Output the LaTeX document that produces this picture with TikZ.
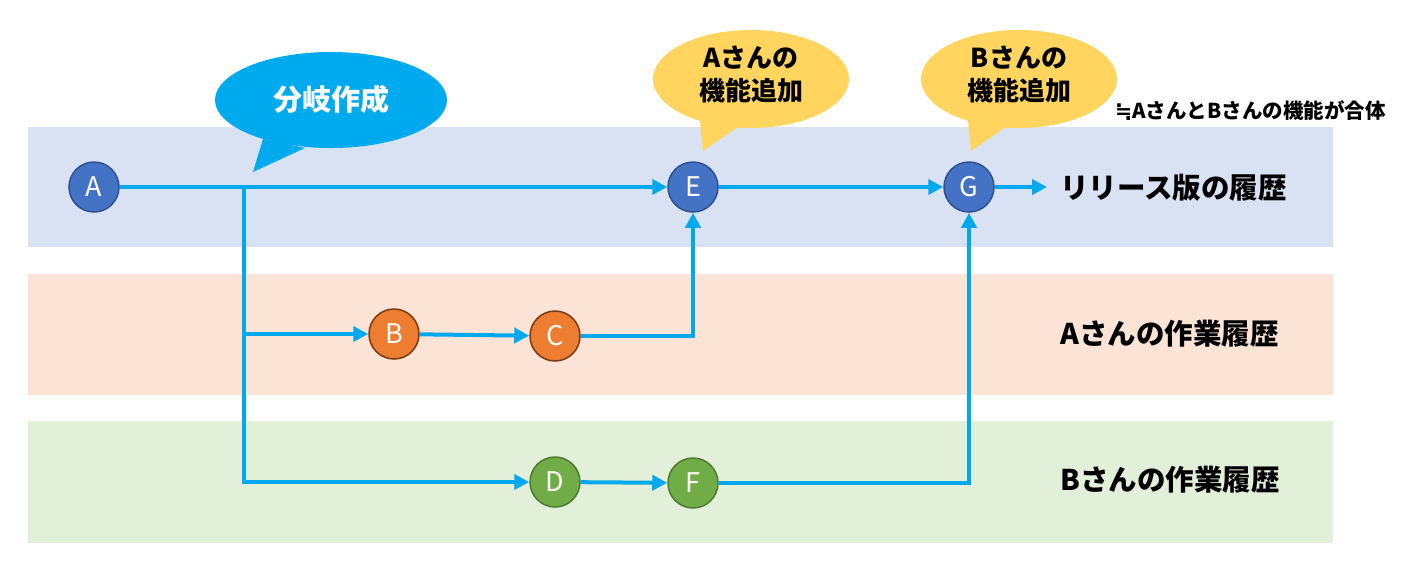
\documentclass[tikz,border=0pt]{standalone}
\usepackage{fontspec}
\setmainfont{Noto Sans CJK JP}
\newfontfamily\jp{Noto Sans CJK JP}
\newfontfamily\symfont{DejaVu Sans}
\usetikzlibrary{arrows.meta}
\definecolor{bandblue}{HTML}{D9E2F3}
\definecolor{bandorange}{HTML}{FBE4D5}
\definecolor{bandgreen}{HTML}{E2EFD9}
\definecolor{lineblue}{HTML}{00A9EE}
\definecolor{nblue}{HTML}{4472C4}
\definecolor{nblueb}{HTML}{2F4F8F}
\definecolor{norange}{HTML}{ED7D31}
\definecolor{norangeb}{HTML}{7A3A12}
\definecolor{ngreen}{HTML}{70AD47}
\definecolor{ngreenb}{HTML}{4E7A32}
\definecolor{callblue}{HTML}{00AAEE}
\definecolor{callyellow}{HTML}{FFD45F}
\tikzset{
  cnode/.style={circle, minimum size=50pt, inner sep=0pt, line width=1.5pt, text=white, font=\jp\fontsize{27}{27}\selectfont},
  bluenode/.style={cnode, fill=nblue, draw=nblueb},
  orangenode/.style={cnode, fill=norange, draw=norangeb},
  greennode/.style={cnode, fill=ngreen, draw=ngreenb},
  conn/.style={draw=lineblue, line width=4pt, -{Triangle[length=15pt,width=15pt]}},
  plainconn/.style={draw=lineblue, line width=4pt},
  rowlabel/.style={anchor=west, inner sep=0pt, font=\jp\bfseries\fontsize{28.5}{28.5}\selectfont},
  calltext/.style={align=center, inner sep=0pt, font=\jp\bfseries\fontsize{26}{33}\selectfont},
}
\begin{document}
\begin{tikzpicture}[x=1pt,y=-1pt]
\useasboundingbox (0,0) rectangle (1410,582);
% bands
\fill[bandblue] (28,127) rectangle (1333,247);
\fill[bandorange] (28,274) rectangle (1333,395);
\fill[bandgreen] (28,421) rectangle (1333,543);
% callouts
\fill[callblue] (263,139) -- (253,172) -- (305,148) -- cycle;
\fill[callblue] (331,100) ellipse [x radius=116pt, y radius=48pt];
\node[calltext, text=white, font=\jp\bfseries\fontsize{29}{33}\selectfont] (cb) at (331,99) {分岐作成};
\fill[callyellow] (700,120) -- (703,151) -- (738,127) -- cycle;
\fill[callyellow] (751,79) ellipse [x radius=98pt, y radius=49pt];
\node[calltext] (ca) at (751,74) {Aさんの\\機能追加};
\fill[callyellow] (968,120) -- (971,151) -- (1006,127) -- cycle;
\fill[callyellow] (1019,79) ellipse [x radius=98pt, y radius=49pt];
\node[calltext] (cbb) at (1019,74) {Bさんの\\機能追加};
\node[anchor=west, inner sep=0pt, font=\jp\bfseries\fontsize{20.5}{20.5}\selectfont] (note) at (1115,110) {{\symfont\bfseries ≒}AさんとBさんの機能が合体};
% nodes
\node[bluenode] (A) at (94,187) {A};
\node[bluenode] (E) at (693,187) {E};
\node[bluenode] (G) at (969,187) {G};
\node[orangenode] (B) at (394,334) {B};
\node[orangenode] (C) at (555,336) {C};
\node[greennode] (D) at (555,482) {D};
\node[greennode] (F) at (693,483) {F};
\coordinate (br) at (244,187);
\coordinate (end) at (1047,187);
% connectors
\draw[conn] (A) -- (E);
\draw[plainconn] (br) -- (br |- D);
\draw[conn] (br |- B) -- (B);
\draw[conn] ([xshift=-2pt]br |- D) -- (D);
\draw[conn] (B) -- (C);
\draw[conn] (C.east) -- (C.east -| E) -- (E.south);
\draw[conn] (D) -- (F);
\draw[conn] (F.east) -- (F.east -| G) -- (G.south);
\draw[conn] (E) -- (G);
\draw[conn] (G) -- (end);
% row labels
\node[rowlabel] (l1) at (1060,188) {リリース版の履歴};
\node[rowlabel] (l2) at (1060,334) {Aさんの作業履歴};
\node[rowlabel] (l3) at (1060,480) {Bさんの作業履歴};
\end{tikzpicture}
\end{document}
